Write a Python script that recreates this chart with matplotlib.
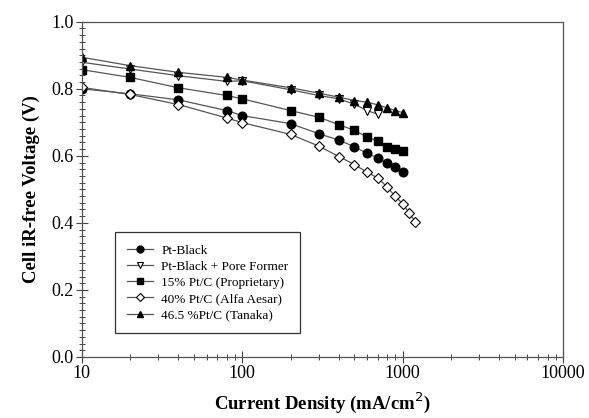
import numpy as np
import matplotlib
matplotlib.use('Agg')
import matplotlib.pyplot as plt
from matplotlib.ticker import MultipleLocator, LogLocator, NullFormatter, FixedLocator

plt.rcParams['font.family'] = ['Liberation Serif', 'DejaVu Serif']

# 数据
x_long = [10, 20, 40, 80, 100, 200, 300, 400, 500, 600, 700, 800, 900, 1000]
x_pore = [10, 20, 40, 80, 100, 200, 300, 400, 500, 600, 700]
x_alfa = [10, 20, 40, 80, 100, 200, 300, 400, 500, 600, 700, 800, 900, 1000, 1100, 1200]

pt_black = [0.800, 0.785, 0.767, 0.735, 0.720, 0.696, 0.666, 0.647, 0.627,
            0.607, 0.594, 0.578, 0.566, 0.551]
pt_pore = [0.879, 0.859, 0.839, 0.822, 0.824, 0.797, 0.780, 0.770, 0.754,
           0.735, 0.724]
pt_c15 = [0.857, 0.834, 0.803, 0.780, 0.770, 0.735, 0.715, 0.693, 0.676,
          0.656, 0.644, 0.626, 0.619, 0.614]
pt_c40 = [0.804, 0.783, 0.753, 0.713, 0.699, 0.664, 0.629, 0.598, 0.574,
          0.551, 0.534, 0.507, 0.479, 0.457, 0.429, 0.403]
pt_c465 = [0.894, 0.869, 0.849, 0.834, 0.826, 0.803, 0.787, 0.775, 0.765,
           0.760, 0.752, 0.743, 0.735, 0.729]

labels = ['Pt-Black', 'Pt-Black + Pore Former', '15% Pt/C (Proprietary)',
          '40% Pt/C (Alfa Aesar)', '46.5 %Pt/C (Tanaka)']

fig = plt.figure(figsize=(5.89, 4.18), dpi=100)
ax = fig.add_axes([0.139, 0.146, 0.817, 0.802])

line_c = '#555555'
ms = 6.2
ax.plot(x_long, pt_black, '-', color=line_c, lw=0.9, marker='o', ms=ms,
        mfc='black', mec='black', label=labels[0])
ax.plot(x_pore, pt_pore, '-', color=line_c, lw=0.9, marker='v', ms=ms,
        mfc='white', mec='black', mew=0.8, label=labels[1])
ax.plot(x_long, pt_c15, '-', color=line_c, lw=0.9, marker='s', ms=ms - 0.5,
        mfc='black', mec='black', label=labels[2])
ax.plot(x_alfa, pt_c40, '-', color=line_c, lw=0.9, marker='D', ms=ms - 0.8,
        mfc='white', mec='black', mew=0.8, label=labels[3])
ax.plot(x_long, pt_c465, '-', color=line_c, lw=0.9, marker='^', ms=ms,
        mfc='black', mec='black', label=labels[4])

ax.set_xscale('log')
ax.set_xlim(10, 10000)
ax.set_ylim(0, 1.0)
ax.xaxis.set_major_locator(FixedLocator([10, 100, 1000, 10000]))
ax.xaxis.set_minor_locator(LogLocator(base=10, subs=np.arange(2, 10)))
ax.xaxis.set_minor_formatter(NullFormatter())
ax.set_xticklabels(['10', '100', '1000', '10000'])
ax.yaxis.set_major_locator(MultipleLocator(0.2))
ax.yaxis.set_minor_locator(MultipleLocator(0.02))
ax.yaxis.set_major_formatter(plt.FuncFormatter(lambda v, p: f'{v:.1f}'))

for s in ax.spines.values():
    s.set_color('#555555')
    s.set_linewidth(0.9)

ax.tick_params(which='major', direction='inout', length=8, width=0.8,
               labelsize=13, color='#444444', pad=2)
ax.tick_params(which='minor', direction='inout', length=4, width=0.7,
               color='#444444')

ax.set_xlabel('Current Density (mA/cm$^{2}$)', fontsize=13.5, fontweight='bold',
              labelpad=6)
ax.set_ylabel('Cell iR-free Voltage (V)', fontsize=13.5, fontweight='bold',
              labelpad=8)

leg = ax.legend(loc='lower left', bbox_to_anchor=(0.069, 0.071),
                borderaxespad=0, fontsize=9.5, frameon=True, fancybox=False,
                edgecolor='black', handlelength=2.0, labelspacing=0.3,
                borderpad=0.9, handletextpad=0.6, markerscale=0.8)
leg.get_frame().set_linewidth(0.9)

fig.savefig('out.png', dpi=100)
